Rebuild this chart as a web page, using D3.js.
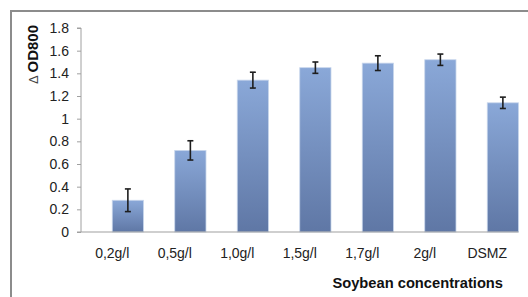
<!DOCTYPE html>
<html>
<head>
<meta charset="utf-8">
<script src="https://cdn.jsdelivr.net/npm/d3@7"></script>
<style>
  body { margin: 0; background: #fff; }
  svg { display: block; font-family: "Liberation Sans", Arial, sans-serif; }
</style>
</head>
<body>
<svg id="chart" width="528" height="297"></svg>
<script>
// values
const categories = ["0,2g/l", "0,5g/l", "1,0g/l", "1,5g/l", "1,7g/l", "2g/l", "DSMZ"];
const odValues = [0.28, 0.72, 1.34, 1.45, 1.49, 1.52, 1.14];
const odErrors = [0.10, 0.085, 0.07, 0.05, 0.065, 0.05, 0.05];
const yTicks = [0, 0.2, 0.4, 0.6, 0.8, 1, 1.2, 1.4, 1.6, 1.8];

const svg = d3.select("#chart");
const margin = { top: 28, right: 9.5, bottom: 65, left: 81 };
const width = 528 - margin.left - margin.right;
const height = 297 - margin.top - margin.bottom;

// frame (only top and left edges visible, the rest is cropped)
svg.append("line").attr("x1", 11).attr("x2", 528).attr("y1", 11).attr("y2", 11)
    .attr("stroke", "#8c8c8c").attr("stroke-width", 2);
svg.append("line").attr("x1", 11).attr("x2", 11).attr("y1", 10).attr("y2", 297)
    .attr("stroke", "#8c8c8c").attr("stroke-width", 2);

const defs = svg.append("defs");
const grad = defs.append("linearGradient").attr("id", "barGrad")
    .attr("x1", 0).attr("y1", 0).attr("x2", 0).attr("y2", 1);
grad.append("stop").attr("offset", "0%").attr("stop-color", "#8aa8d8");
grad.append("stop").attr("offset", "100%").attr("stop-color", "#5f77a5");

const g = svg.append("g").attr("transform", `translate(${margin.left},${margin.top})`);

const x = d3.scaleBand().domain(categories).range([0, width]);
const y = d3.scaleLinear().domain([0, 1.8]).range([height, 0]);
const bw = x.bandwidth();

// y axis
const yAxis = g.append("g").call(d3.axisLeft(y).tickValues(yTicks).tickSize(4).tickPadding(8)
    .tickFormat(d => d3.format("~g")(d)));
yAxis.selectAll("line, path").attr("stroke", "#a0a0a0");
yAxis.select(".domain").attr("d", `M-4,${height}H0V0H-4`);
yAxis.selectAll("text").attr("font-size", 14).attr("fill", "#222")
    .attr("font-family", "Liberation Sans, Arial, sans-serif");

// bars: sit in the right half of each category band
const bars = g.selectAll(".bar").data(categories).join("g").attr("class", "bar");
bars.append("rect")
    .attr("x", d => x(d) + bw / 2)
    .attr("width", bw / 2)
    .attr("y", (d, i) => y(odValues[i]))
    .attr("height", (d, i) => height - y(odValues[i]))
    .attr("fill", "url(#barGrad)")
    .attr("stroke", "#c8d6ec").attr("stroke-width", 0.8);

// x axis line
g.append("line").attr("x1", 0).attr("x2", width).attr("y1", height).attr("y2", height)
    .attr("stroke", "#a0a0a0").attr("stroke-width", 1.2);

// error bars
const errs = g.selectAll(".err").data(categories).join("g").attr("class", "err")
    .attr("stroke", "#1e1e1e").attr("stroke-width", 1.6);
errs.append("line")
    .attr("x1", d => x(d) + bw * 0.75).attr("x2", d => x(d) + bw * 0.75)
    .attr("y1", (d, i) => y(odValues[i] + odErrors[i]))
    .attr("y2", (d, i) => y(odValues[i] - odErrors[i]));
errs.selectAll(".cap").data((d, i) => [[d, odValues[i] + odErrors[i]], [d, odValues[i] - odErrors[i]]])
    .join("line").attr("class", "cap")
    .attr("x1", d => x(d[0]) + bw * 0.75 - 3).attr("x2", d => x(d[0]) + bw * 0.75 + 3)
    .attr("y1", d => y(d[1])).attr("y2", d => y(d[1]));

// category labels centered on bands
g.selectAll(".cat").data(categories).join("text").attr("class", "cat")
    .attr("x", d => x(d) + bw / 2)
    .attr("y", height + 26)
    .attr("text-anchor", "middle")
    .attr("font-size", 14).attr("fill", "#222")
    .text(d => d);

// axis titles
svg.append("text").attr("x", 503).attr("y", 287.5).attr("text-anchor", "end")
    .attr("font-size", 14.7).attr("font-weight", "bold").attr("fill", "#111")
    .text("Soybean concentrations");

const yt = svg.append("text").attr("transform", "translate(38,25) rotate(-90)")
    .attr("text-anchor", "end").attr("font-size", 15).attr("fill", "#111");
yt.append("tspan").attr("font-weight", "normal").attr("font-size", 13).attr("fill", "#444").text("\u0394 ");
yt.append("tspan").attr("font-weight", "bold").text("OD800");
</script>
</body>
</html>
